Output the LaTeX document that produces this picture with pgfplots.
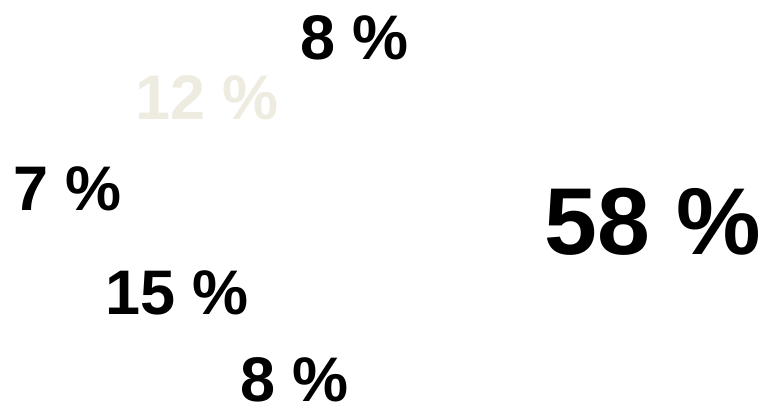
\documentclass[border=0pt]{standalone}
\usepackage{pgfplots}
\pgfplotsset{compat=1.18}
\usepackage{fontspec}
\setmainfont{Liberation Sans}
\definecolor{pale}{HTML}{EEEBE0}
\begin{document}
\begin{tikzpicture}
\begin{axis}[
  scale only axis, width=760bp, height=408bp,
  xmin=0, xmax=760, ymin=0, ymax=408,
  hide axis, clip=false,
  point meta=explicit symbolic,
]
\addplot[draw=none, mark=none] coordinates {(0,0) (760,408)};
\addplot[draw=none, mark=none, nodes near coords,
  nodes near coords style={anchor=center, inner sep=0pt, overlay, text=black,
    font=\bfseries\fontsize{63bp}{70bp}\selectfont}]
  coordinates {
  (354.5,370.5) [8 \%]
  (67.5,219) [7 \%]
  (177,115) [15 \%]
  (294.5,28.5) [8 \%]
};
\addplot[draw=none, mark=none, nodes near coords,
  nodes near coords style={anchor=center, inner sep=0pt, overlay, text=pale,
    font=\bfseries\fontsize{63bp}{70bp}\selectfont}]
  coordinates {
  (207,310.5) [12 \%]
};
\addplot[draw=none, mark=none, nodes near coords,
  nodes near coords style={anchor=center, inner sep=0pt, overlay, text=black,
    font=\bfseries\fontsize{95bp}{100bp}\selectfont}]
  coordinates {
  (653,186) [58 \%]
};
\end{axis}
\end{tikzpicture}
\end{document}
